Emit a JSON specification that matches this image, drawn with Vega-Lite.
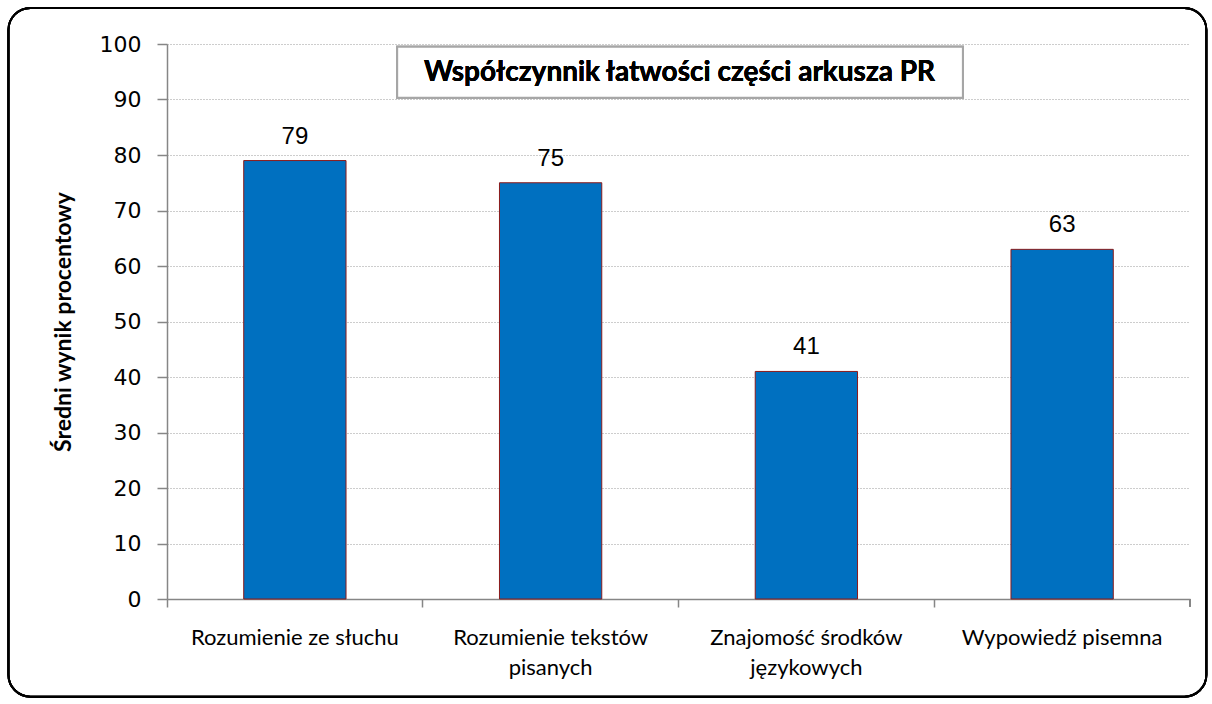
{
  "$schema": "https://vega.github.io/schema/vega-lite/v6.json",
  "width": 1023,
  "height": 555,
  "autosize": {"type": "none"},
  "padding": {"left": 167, "top": 44, "right": 22, "bottom": 105},
  "background": "white",
  "config": {"view": {"stroke": null}},
  "data": {"values": [
    {"cat": "Rozumienie ze słuchu", "value": 79},
    {"cat": "Rozumienie tekstów|pisanych", "value": 75},
    {"cat": "Znajomość środków|językowych", "value": 41},
    {"cat": "Wypowiedź pisemna", "value": 63}
  ]},
  "resolve": {"scale": {"x": "independent"}, "axis": {"x": "independent"}},
  "layer": [
    {
      "mark": {"type": "bar", "fill": "#0070C0", "stroke": "#8B1A1A", "strokeWidth": 1, "width": {"band": 0.4}},
      "encoding": {
        "x": {
          "field": "cat", "type": "nominal", "sort": null,
          "scale": {"paddingInner": 0, "paddingOuter": 0},
          "axis": {
            "title": null, "labelAngle": 0, "bandPosition": 0,
            "labelExpr": "split(datum.label, '|')",
            "labelFont": "Lato", "labelFontSize": 22, "labelColor": "#000000",
            "labelPadding": 20, "labelLineHeight": 30, "labelBaseline": "top",
            "labelLimit": 0, "labelOverlap": false,
            "domainColor": "#868686", "domainWidth": 1.5,
            "tickColor": "#868686", "tickSize": 8, "tickWidth": 1.5,
            "grid": false
          }
        },
        "y": {
          "field": "value", "type": "quantitative",
          "scale": {"domain": [0, 100], "nice": false},
          "axis": {
            "title": "Średni wynik procentowy",
            "titleFont": "Lato", "titleFontSize": 23, "titleFontWeight": "bold", "titleColor": "#000000",
            "titlePadding": 24,
            "values": [0, 10, 20, 30, 40, 50, 60, 70, 80, 90, 100],
            "labelFont": "DejaVu Sans", "labelFontSize": 22, "labelColor": "#000000",
            "labelPadding": 16,
            "domainColor": "#868686", "domainWidth": 1.5,
            "tickColor": "#868686", "tickSize": 10, "tickWidth": 1.5,
            "grid": true, "gridColor": "#9A9A9A", "gridDash": [1, 2], "gridWidth": 1
          }
        }
      }
    },
    {
      "mark": {"type": "text", "baseline": "alphabetic", "dy": -17, "font": "Liberation Sans", "fontSize": 24, "color": "#000000"},
      "encoding": {
        "x": {"field": "cat", "type": "nominal", "sort": null, "scale": {"paddingInner": 0, "paddingOuter": 0}, "axis": null},
        "y": {"field": "value", "type": "quantitative"},
        "text": {"field": "value", "type": "quantitative"}
      }
    },
    {
      "mark": {"type": "rule", "stroke": "#868686", "strokeWidth": 1.5},
      "encoding": {
        "x": {"datum": 100, "type": "quantitative", "scale": {"domain": [0, 100]}, "axis": null},
        "y": {"datum": 0, "type": "quantitative"},
        "y2": {"datum": -1.4}
      }
    },
    {
      "mark": {"type": "rect", "fill": "white", "stroke": "#A6A6A6", "strokeWidth": 2},
      "encoding": {
        "x": {"datum": 22.5, "type": "quantitative", "scale": {"domain": [0, 100]}, "axis": null},
        "x2": {"datum": 77.8},
        "y": {"datum": 99.5, "type": "quantitative"},
        "y2": {"datum": 90.3}
      }
    },
    {
      "mark": {"type": "text", "align": "center", "baseline": "middle", "font": "Lato", "fontSize": 28, "fontWeight": "bold", "color": "#000000"},
      "encoding": {
        "x": {"datum": 50.1, "type": "quantitative", "scale": {"domain": [0, 100]}, "axis": null},
        "y": {"datum": 94.8, "type": "quantitative"},
        "text": {"value": "Współczynnik łatwości części arkusza PR"}
      }
    },
    {
      "mark": {"type": "rect", "fill": null, "fillOpacity": 0, "stroke": "#000000", "strokeWidth": 2, "cornerRadius": 22},
      "encoding": {
        "x": {"datum": -15.5, "type": "quantitative", "scale": {"domain": [0, 100]}, "axis": null},
        "x2": {"datum": 101.6},
        "y": {"datum": 106.5, "type": "quantitative"},
        "y2": {"datum": -17.6}
      }
    }
  ]
}
